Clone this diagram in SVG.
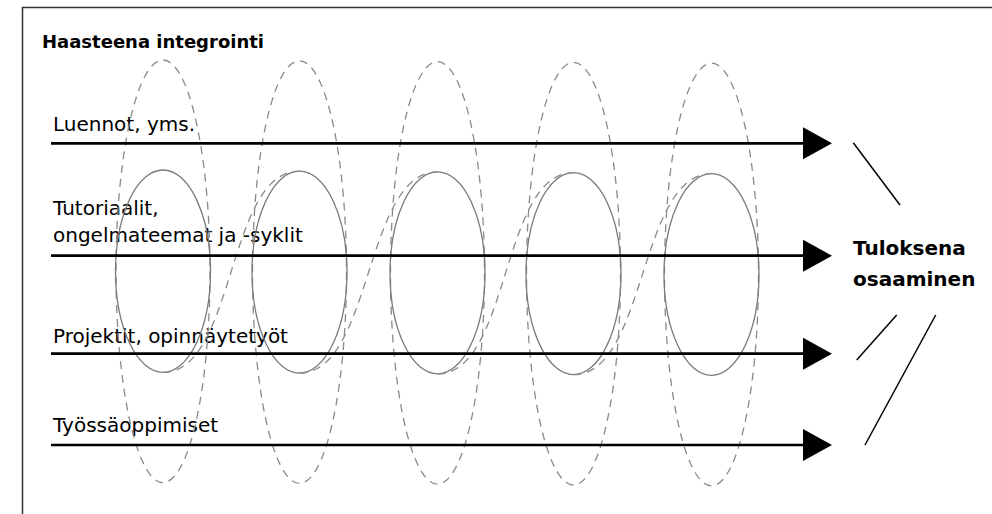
<svg xmlns="http://www.w3.org/2000/svg" width="992" height="514" viewBox="0 0 992 514">
  <style>
    .t { font-family: "DejaVu Sans", "Liberation Sans", sans-serif; font-size: 20px; fill: #000; }
    .b { font-weight: bold; }
    .dash { fill: none; stroke: #8a8a8a; stroke-width: 1.3; stroke-dasharray: 8 6; }
    .solid { fill: none; stroke: #7a7a7a; stroke-width: 1.3; }
    .arrow { fill: none; stroke: #000; stroke-width: 2.7; marker-end: url(#head); }
    .ray { stroke: #000; stroke-width: 1.5; }
  </style>
  <defs>
    <marker id="head" markerUnits="userSpaceOnUse" markerWidth="29" markerHeight="32" viewBox="0 0 29 32" refX="0" refY="16" orient="auto">
      <path d="M0,0 L29,16 L0,32 Z" fill="#000"/>
    </marker>
  </defs>
  <rect x="0" y="0" width="992" height="514" fill="#fff"/>
  <rect id="frame" x="22.5" y="7.5" width="1000" height="520" fill="none" stroke="#333" stroke-width="1.5"/>

  <g id="labels">
    <text class="t b" x="42" y="47.5" font-size="18" style="font-size:18px">Haasteena integrointi</text>
    <text class="t" x="53" y="130.5">Luennot, yms.</text>
    <text class="t" x="53" y="215">Tutoriaalit,</text>
    <text class="t" x="53" y="241.7">ongelmateemat ja -syklit</text>
    <text class="t" x="53" y="342.7">Projektit, opinnäytetyöt</text>
    <text class="t" x="53" y="432.3">Työssäoppimiset</text>
  </g>

  <g id="loops">
    <g id="loop1">
      <ellipse class="dash" cx="163" cy="271.3" rx="47" ry="211.3"/>
      <ellipse class="solid" cx="163" cy="271.2" rx="47.5" ry="101.2"/>
    </g>
    <g id="loop2">
      <ellipse class="dash" cx="299.5" cy="272.1" rx="47" ry="211.3"/>
      <ellipse class="solid" cx="299.5" cy="272.1" rx="47.5" ry="101"/>
    </g>
    <g id="loop3">
      <ellipse class="dash" cx="437.5" cy="272.9" rx="47" ry="211.3"/>
      <ellipse class="solid" cx="437.5" cy="272.9" rx="47.5" ry="101"/>
    </g>
    <g id="loop4">
      <ellipse class="dash" cx="573.5" cy="273.7" rx="47" ry="211.3"/>
      <ellipse class="solid" cx="573.5" cy="273.7" rx="47.5" ry="101"/>
    </g>
    <g id="loop5">
      <ellipse class="dash" cx="711.5" cy="274.5" rx="47" ry="211.3"/>
      <ellipse class="solid" cx="711.5" cy="274.5" rx="47.5" ry="100.8"/>
    </g>
  </g>

  <g id="links">
    <path class="dash" d="M163,372.4 C236,372.4 226,171.1 299.5,171.1"/>
    <path class="dash" d="M299.5,373.1 C372.5,373.1 364.5,171.9 437.5,171.9"/>
    <path class="dash" d="M437.5,373.9 C510.5,373.9 500.5,172.7 573.5,172.7"/>
    <path class="dash" d="M573.5,374.7 C646.5,374.7 638.5,173.7 711.5,173.7"/>
  </g>

  <g id="connectors">
    <path class="arrow" d="M51,143.3 L803,143.3"/>
    <path class="arrow" d="M51,255.7 L803,255.7"/>
    <path class="arrow" d="M51,353.7 L803,353.7"/>
    <path class="arrow" d="M51,445 L803,445"/>
    <line class="ray" x1="853.3" y1="142.7" x2="900" y2="205"/>
    <line class="ray" x1="856.7" y1="360" x2="896.7" y2="315"/>
    <line class="ray" x1="865" y1="445" x2="935.7" y2="315"/>
  </g>

  <g id="result">
    <text class="t b" x="853" y="254.5">Tuloksena</text>
    <text class="t b" x="853" y="285.5">osaaminen</text>
  </g>
</svg>
